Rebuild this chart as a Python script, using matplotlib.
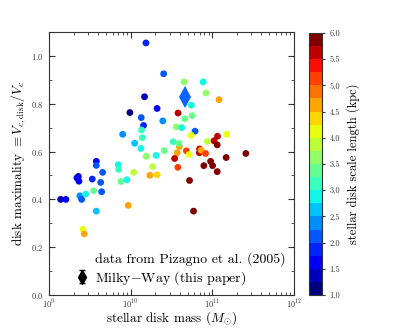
import numpy as np
import matplotlib
matplotlib.use("Agg")
import matplotlib.pyplot as plt
from matplotlib.ticker import MultipleLocator, LogLocator
from matplotlib.lines import Line2D

plt.rcParams['font.family'] = 'serif'
plt.rcParams['font.serif'] = ['cmr10', 'DejaVu Serif']
plt.rcParams['mathtext.fontset'] = 'cm'
plt.rcParams['axes.formatter.use_mathtext'] = True

# ---------------- data (Pizagno et al. 2005 sample) ----------------
disk_mass = [1.54e10, 2.54e10, 4.53e10, 7.75e10, 8.36e10, 1.21e11, 1.48e10, 9.8e9,
             2.11e10, 1.35e10, 2.48e10, 1.44e10, 8.0e9, 1.36e10, 1.39e10, 1.12e10,
             1.34e10, 1.55e10, 2.05e10, 2.58e10, 3.32e10, 3.95e10, 3.90e10, 3.71e10,
             4.82e10, 5.21e10, 3.46e10, 3.79e10, 1.86e10, 3.81e10, 5.54e10, 4.62e10,
             5.66e10, 3.61e10, 4.22e10, 6.15e10, 5.52e10, 1.16e11, 1.50e11, 1.05e11,
             1.15e11, 8.71e10, 7.0e10, 6.95e10, 7.30e10, 8.28e10, 7.89e10, 9.55e10,
             1.01e11, 1.15e11, 1.48e11, 2.58e11, 5.27e10, 5.90e10, 3.8e9, 3.8e9,
             4.54e9, 2.29e9, 2.20e9, 2.33e9, 3.39e9, 4.30e9, 7.05e9, 7.13e9,
             1.09e10, 1.72e10, 2.12e10, 7.6e9, 9.0e9, 1.39e9, 1.61e9, 2.39e9,
             2.51e9, 2.81e9, 3.52e9, 4.42e9, 3.8e9, 9.35e9, 2.61e9, 2.70e9]
maximality = [1.054, 0.925, 0.891, 0.891, 0.845, 0.817, 0.829, 0.763,
              0.780, 0.742, 0.728, 0.709, 0.672, 0.690, 0.658, 0.635,
              0.613, 0.580, 0.584, 0.604, 0.641, 0.621, 0.634, 0.595,
              0.603, 0.588, 0.571, 0.534, 0.537, 0.761, 0.794, 0.737,
              0.750, 0.703, 0.700, 0.685, 0.668, 0.664, 0.672, 0.645,
              0.628, 0.642, 0.611, 0.595, 0.606, 0.592, 0.541, 0.559,
              0.541, 0.516, 0.575, 0.592, 0.479, 0.351, 0.559, 0.542,
              0.513, 0.496, 0.490, 0.476, 0.485, 0.471, 0.545, 0.525,
              0.513, 0.501, 0.503, 0.475, 0.482, 0.400, 0.400, 0.415,
              0.400, 0.422, 0.436, 0.432, 0.351, 0.375, 0.275, 0.256]
scale_length = [1.8, 2.2, 3.6, 2.8, 3.7, 4.7, 1.3, 1.1,
                1.7, 2.2, 2.3, 1.8, 2.4, 3.2, 3.2, 2.6,
                2.8, 3.5, 2.8, 3.4, 3.0, 4.7, 3.4, 4.5,
                5.2, 4.0, 5.5, 5.0, 3.9, 5.5, 2.8, 3.3,
                3.4, 3.5, 2.9, 2.2, 4.2, 5.6, 4.1, 5.7,
                6.0, 3.9, 5.6, 5.6, 4.5, 5.1, 6.0, 6.0,
                6.0, 6.0, 6.0, 6.0, 6.0, 6.0, 1.5, 2.0,
                2.0, 1.3, 1.6, 1.7, 1.8, 2.2, 2.9, 3.1,
                3.9, 4.5, 4.4, 3.4, 2.8, 1.3, 1.7, 2.3,
                2.2, 2.8, 3.3, 2.2, 2.7, 4.6, 4.0, 4.6]

# Milky Way (this paper)
mw_mass = 4.6e10
mw_max = 0.83
mw_err = 0.04

cbar_ticks = [1.0, 1.5, 2.0, 2.5, 3.0, 3.5, 4.0, 4.5, 5.0, 5.5, 6.0]

# ---------------- plot ----------------
fig = plt.figure(figsize=(3.95, 3.29), dpi=100)
ax = fig.add_axes([0.124, 0.103, 0.620, 0.800])
cax = fig.add_axes([0.782, 0.103, 0.033, 0.797])

cmap = plt.get_cmap('jet', 20)
sc = ax.scatter(disk_mass, maximality, c=scale_length, cmap=cmap, vmin=1, vmax=6,
                s=24, linewidths=0, zorder=2)

ax.errorbar([mw_mass], [mw_max], yerr=[mw_err], fmt='d', color='#0a64ff', ms=11,
            mec='#0a64ff', mew=0, ecolor='#5a9cff', elinewidth=1.0, capsize=3,
            capthick=1.0, zorder=3)

# legend proxies
pz_proxy = Line2D([], [], ls='none', marker=None)
mw_proxy = ax.errorbar([np.nan], [np.nan], yerr=[0.04], fmt='kd', ms=7,
                       ecolor='k', elinewidth=0.8, capsize=2)
leg = ax.legend([pz_proxy, mw_proxy],
                ['data from Pizagno et al. (2005)', r'Milky$-$Way (this paper)'],
                loc='lower right', frameon=False, fontsize=10, handlelength=1.0,
                handletextpad=0.4, borderaxespad=0.2, labelspacing=0.2)

ax.set_xscale('log')
ax.set_xlim(1e9, 1e12)
ax.set_ylim(0, 1.1)
ax.yaxis.set_major_locator(MultipleLocator(0.2))
ax.yaxis.set_minor_locator(MultipleLocator(0.1))
ax.xaxis.set_minor_locator(LogLocator(base=10, subs=np.arange(2, 10)))
ax.tick_params(which='both', direction='in', top=True, right=True, labelsize=6,
               colors='#333333', labelcolor='#333333', pad=2)
ax.tick_params(axis='y', which='major', pad=4)
ax.tick_params(which='major', length=4)
ax.tick_params(which='minor', length=2)
for sp in ax.spines.values():
    sp.set_color('#333333')

ax.set_xlabel(r'stellar disk mass ($M_{\odot}$)', fontsize=9.5, labelpad=-1)
ax.set_ylabel(r'disk maximality $\equiv V_{c,\mathrm{disk}}/V_c$', fontsize=9.5, labelpad=2)

cb = fig.colorbar(sc, cax=cax, ticks=cbar_ticks)
cb.ax.set_yticklabels(['%.1f' % t for t in cbar_ticks])
cb.ax.tick_params(labelsize=6, length=2, colors='#333333')
cb.outline.set_color('#333333')
cb.set_label('stellar disk scale length (kpc)', fontsize=9, labelpad=4)

fig.savefig('out.png', dpi=100)
